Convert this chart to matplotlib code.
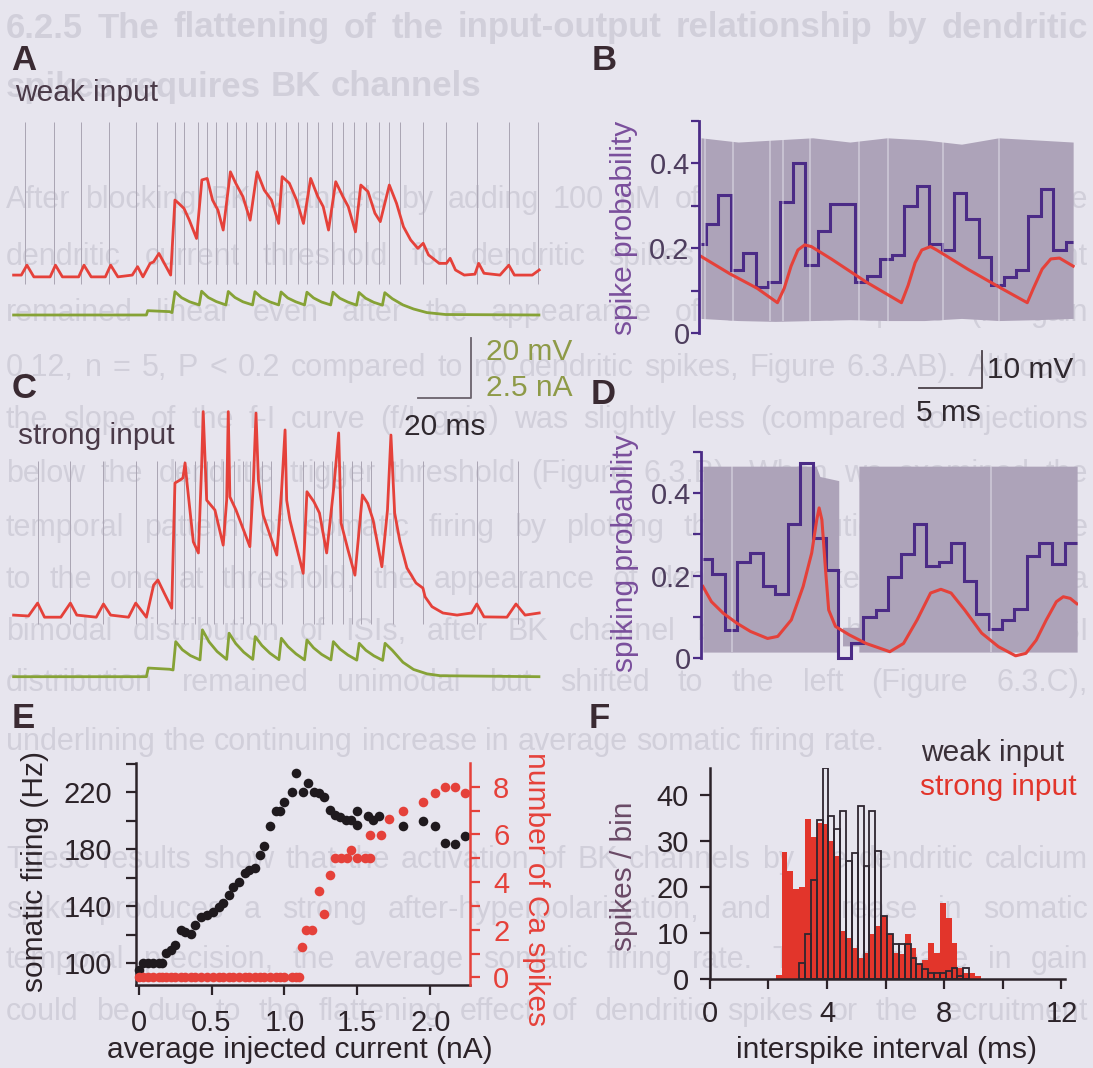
import matplotlib
matplotlib.use('Agg')
import matplotlib.pyplot as plt
from matplotlib.ticker import FixedLocator

W, H = 1093, 1068  # page size in pixels

# ---------------- A: weak input (time ms, voltage mV, current nA) ----------------
a_dend_t = [0, 2.9, 5.0, 7.6, 13.7, 15.7, 18.3, 24.4, 26.4, 29.1, 34.4, 36.4, 39.1, 44.5, 46.5,
            48.5, 51.2, 52.5, 54.5, 58.9, 60.5, 61.9, 63.9, 65.9, 68.6, 70.6, 72.6, 74.6, 76.6, 78.6,
            81.3, 83.3, 86.0, 88.7, 91.3, 94.0, 96.7, 99.4, 100.7, 103.4, 106.1, 108.7, 111.4, 114.1,
            116.1, 118.1, 120.8, 123.5, 125.5, 128.2, 130.2, 132.9, 135.5, 137.5, 140.9, 143.6, 146.2,
            148.9, 151.6, 153.6, 155.6, 159.6, 162.3, 163.7, 165.7, 169.0, 173.0, 174.4, 176.4, 182.4,
            185.7, 187.8, 194.5, 197.1]
a_dend_v = [-70, -70, -66.7, -70.6, -70.6, -66.7, -70.6, -70.6, -66.7, -70.6, -70.6, -66.7, -70.6, -70, -67.2,
            -70.6, -66.1, -65.6, -62.8, -70, -45, -46.1, -47.8, -51.7, -57.8, -38.3, -37.8, -45, -48.3, -55,
            -35.6, -39.4, -43.9, -51.7, -35.6, -41.7, -45, -52.8, -37.2, -39.4, -45, -52.8, -37.8, -43.9,
            -47.2, -55, -38.9, -43.9, -47.2, -55.6, -40, -42.2, -49.4, -52.2, -40, -46.1, -53.9,
            -58.3, -61.1, -59.4, -63.3, -66.1, -66.1, -64.4, -68.3, -70, -69.7, -66.1, -69.4, -70,
            -66.7, -70, -70, -68.3]
a_soma_spikes = [4.3, 15.0, 25.4, 35.8, 45.8, 53.8, 60.5, 63.9, 69.2, 72.6, 75.9, 80.0, 83.3, 87.3,
                 91.3, 94.7, 98.0, 102.0, 106.7, 110.1, 114.1, 119.5, 123.5, 127.5, 132.2, 136.9,
                 140.9, 144.9, 153.6, 162.3, 173.7, 185.7, 196.5]
a_inj_t = [0, 49.8, 50.3, 58.5, 59.4, 60.5, 63.0, 66.0, 69.6, 70.5, 73.0, 76.0, 79.6, 80.5, 83.0, 86.0,
           89.6, 90.5, 93.0, 96.0, 99.4, 100.3, 102.8, 105.8, 109.1, 110.0, 112.5, 115.5, 118.9, 119.8,
           122.3, 125.3, 128.6, 129.5, 132.0, 135.0, 138.3, 139.2, 142, 146, 150, 155, 162, 197]
a_inj_i = [0, 0, 0.18, 0.14, 0.1, 0.97, 0.72, 0.55, 0.42, 0.99, 0.73, 0.56, 0.42, 0.98, 0.73, 0.55,
           0.42, 0.97, 0.72, 0.55, 0.42, 0.96, 0.71, 0.55, 0.42, 0.95, 0.71, 0.54, 0.42, 0.95,
           0.70, 0.54, 0.41, 0.94, 0.70, 0.53, 0.41, 0.93, 0.68, 0.42, 0.25, 0.1, 0.02, 0]

# ---------------- C: strong input ----------------
c_dend_t = [0, 5.6, 9.0, 11.6, 17.7, 21.3, 23.7, 31.0, 33.7, 36.4, 43.1, 45.8, 49.8, 52.5, 54.1,
            56.5, 59.3, 60.5, 62.4, 63.5, 64.3, 65.0, 67.4, 69.3, 70.5, 71.1, 72.4, 75.5, 78.6, 79.9,
            80.5, 81.1, 83.4, 88.6, 89.9, 90.9, 91.8, 93.6, 98.7, 100.5, 101.8, 102.4, 103.6, 108.6,
            110.0, 112.6, 114.7, 117.4, 120.1, 121.9, 122.8, 125.4, 128.0, 130.8, 132.8, 134.8, 138.1,
            140.2, 141.5, 142.9, 144.9, 147.5, 150.9, 153.5, 154.3, 156.9, 161.0, 166.3, 171.7, 173.7,
            176.4, 185.0, 188.4, 191.8, 197.1]
c_dend_v = [-70, -70.3, -66, -70.7, -70.7, -66, -70, -70.7, -66.3, -70, -70.7, -66, -70.7, -60, -58.3,
            -62.7, -67.7, -26, -25, -24.3, -19.3, -25.7, -45.6, -49.3, -20.6, -2.2, -31.7, -35, -46.7, -31.7,
            -2.2, -30.6, -35, -47.2, -26, -2.7, -25, -36.7, -50, -28.3, -8.3, -31.7, -38.3, -56.1,
            -28.9, -32.2, -36, -49.3, -27.2, -9.3, -39.3, -48.3, -56.7, -30, -32.8, -38.3, -53.9,
            -35, -10, -36, -45.6, -54.3, -59.3, -61, -63.9, -67.2, -69.3, -70, -69.3, -66.3,
            -70.6, -70.7, -66.3, -70, -69.3]
c_soma_spikes = [9.0, 21.0, 33.7, 45.8, 53.8, 60.5, 63.9, 67.9, 72.5, 75.1, 78.5, 82.6, 86.0, 88.6,
                 93.3, 96.7, 100.6, 108.7, 112.6, 116.0, 119.4, 123.5, 126.9, 130.1, 134.0, 142.2,
                 153.5, 173.7, 189.1]
c_inj_t = [0, 49.8, 50.5, 58.5, 59.8, 60.8, 63.3, 66.3, 69.9, 70.8, 73.3, 76.3, 79.9, 80.8, 83.3, 86.3,
           89.7, 90.6, 93.1, 96.1, 99.5, 100.4, 102.9, 105.9, 109.1, 110.0, 112.5, 115.5, 119.0, 119.9,
           122.4, 125.4, 128.7, 129.6, 132.1, 135.1, 138.4, 139.3, 142, 146, 150, 155, 160, 197]
c_inj_i = [0, 0, 0.36, 0.31, 0.28, 1.46, 1.12, 0.88, 0.7, 1.95, 1.45, 1.05, 0.72, 1.81, 1.38, 1.02,
           0.72, 1.67, 1.3, 0.98, 0.71, 1.6, 1.25, 0.95, 0.7, 1.53, 1.2, 0.93, 0.7, 1.46,
           1.15, 0.9, 0.69, 1.39, 1.1, 0.87, 0.68, 1.39, 1.1, 0.6, 0.3, 0.12, 0.04, 0]

# ---------------- B: weak input, spike probability ----------------
b_edges = [0.0] + [0.4 + k for k in range(30)] + [30.0]
b_prob = [0.21, 0.257, 0.325, 0.15, 0.19, 0.11, 0.12, 0.31, 0.40, 0.16, 0.24, 0.305, 0.305, 0.12,
          0.136, 0.174, 0.185, 0.30, 0.347, 0.21, 0.196, 0.33, 0.27, 0.18, 0.113, 0.132, 0.15,
          0.275, 0.34, 0.196, 0.215]
b_fit_t = [0, 2.33, 4.52, 6.16, 6.71, 7.26, 7.81, 8.36, 8.9, 10.55, 13.3, 16.16, 16.7, 17.26, 17.8,
           18.5, 19.0, 21.5, 24.2, 26.3, 26.8, 27.5, 28.2, 28.9, 30.0]
b_fit_p = [0.181, 0.14, 0.106, 0.072, 0.106, 0.158, 0.196, 0.208, 0.204, 0.174, 0.121, 0.072, 0.113,
           0.166, 0.196, 0.204, 0.196, 0.151, 0.106, 0.072, 0.106, 0.151, 0.175, 0.177, 0.158]
b_band_t = [0, 3, 6, 9, 12, 15, 18, 21, 24, 27, 30]
b_band_top = [0.46, 0.45, 0.455, 0.46, 0.45, 0.46, 0.455, 0.445, 0.46, 0.455, 0.45]
b_band_bot = [0.035, 0.03, 0.028, 0.03, 0.032, 0.03, 0.03, 0.035, 0.03, 0.032, 0.035]
b_gaps = [0.3, 2.6, 5.6, 6.6, 8.8, 12.7, 15.1, 19.5, 24.0]

# ---------------- D: strong input, spiking probability ----------------
d_edges = [0.0] + [0.75 + k for k in range(30)]
d_prob = [0.24, 0.204, 0.068, 0.232, 0.256, 0.176, 0.156, 0.326, 0.472, 0.292, 0.214, 0.0, 0.036,
          0.1, 0.116, 0.196, 0.252, 0.324, 0.224, 0.232, 0.278, 0.188, 0.108, 0.072, 0.092, 0.12,
          0.248, 0.28, 0.228, 0.278]
d_fit_t = [0, 0.68, 1.62, 2.7, 3.78, 5.14, 5.95, 7.03, 7.97, 8.65, 9.05, 9.24, 9.46, 9.73, 10.0,
           10.54, 11.62, 12.97, 14.86, 15.95, 17.03, 18.1, 18.92, 19.73, 20.81, 22.16, 23.5, 24.86,
           25.68, 26.5, 27.3, 28.1, 28.65, 29.2, 29.73]
d_fit_p = [0.174, 0.137, 0.109, 0.085, 0.065, 0.048, 0.053, 0.093, 0.174, 0.255, 0.335, 0.364, 0.335,
           0.222, 0.117, 0.077, 0.057, 0.036, 0.016, 0.036, 0.093, 0.158, 0.167, 0.158, 0.117, 0.061,
           0.028, 0.006, 0.012, 0.044, 0.093, 0.137, 0.149, 0.145, 0.132]
d_band_t = [0, 9.0, 9.3, 10.8, 10.8, 11.1, 11.1, 12.4, 12.4, 29.75]
d_band_top = [0.465, 0.465, 0.44, 0.43, 0, 0, 0.075, 0.075, 0.465, 0.465]
d_band_bot = [0.015, 0.015, 0.015, 0.015, 0, 0, 0.03, 0.03, 0.015, 0.015]
d_gaps = [2.3, 22.9]

# ---------------- E: f-I curve ----------------
e_rate_x = [0.0, 0.03, 0.066, 0.10, 0.14, 0.16, 0.19, 0.22, 0.25, 0.29, 0.32, 0.36, 0.39, 0.43, 0.47,
            0.51, 0.55, 0.58, 0.62, 0.65, 0.69, 0.73, 0.76, 0.80, 0.83, 0.86, 0.90, 0.94, 0.97, 1.00,
            1.05, 1.08, 1.13, 1.16, 1.20, 1.24, 1.27, 1.31, 1.35, 1.38, 1.42, 1.46, 1.50, 1.50, 1.57,
            1.61, 1.65, 1.81, 1.95, 2.03, 2.10, 2.17, 2.24]
e_rate_hz = [95.3, 100, 100, 100, 100, 100, 107, 109.4, 112.9, 123.4, 122.2, 120.4, 126.9, 132.8, 133.9,
             136.3, 139.8, 142.1, 148.0, 153.8, 157.3, 163.2, 165.5, 166.7, 176.1, 182.4, 196.4, 206.5,
             206.5, 213.5, 220.0, 233.4, 220.0, 226.4, 220.0, 219.3, 216.5, 207.2, 204.1, 202.5, 200.2,
             200.2, 197.1, 206.5, 203.4, 200.6, 203.4, 196.4, 199.9, 196.4, 184.2, 183.8, 189.4]
e_ca_x = [0.0, 0.03, 0.066, 0.10, 0.14, 0.16, 0.19, 0.22, 0.25, 0.29, 0.32, 0.36, 0.39, 0.43, 0.47,
          0.51, 0.55, 0.58, 0.62, 0.65, 0.69, 0.73, 0.76, 0.80, 0.83, 0.86, 0.90, 0.94, 0.97, 1.00,
          1.05, 1.08, 1.10, 1.12, 1.15, 1.19, 1.24, 1.27, 1.31, 1.35, 1.39, 1.43, 1.46, 1.50, 1.55,
          1.59, 1.59, 1.66, 1.72, 1.81, 1.95, 2.03, 2.10, 2.17, 2.24]
e_ca_n = [0, 0, 0, 0, 0, 0, 0, 0, 0, 0, 0, 0, 0, 0, 0,
          0, 0, 0, 0, 0, 0, 0, 0, 0, 0, 0, 0, 0, 0, 0,
          0, 0, 0, 1.29, 1.99, 1.99, 3.64, 2.66, 4.29, 4.99, 4.99, 4.99, 5.34, 4.99, 4.99,
          4.99, 5.97, 5.97, 6.63, 6.98, 7.34, 7.72, 8.0, 8.0, 7.72]

# ---------------- F: ISI histograms (0.2 ms bins) ----------------
f_weak_start = 3.05
f_weak = [3.6, 9.8, 21.7, 34.6, 46, 35.5, 32.6, 36.6, 25.7, 27.5, 37.7, 24.6, 36.7, 27.9, 13.8, 9.8,
          7.6, 7.6, 7.6, 4.7, 3.3, 2.2, 1.4, 1.4, 1.4, 1.8, 2.4, 0.7, 2.5]
f_strong_start = 2.25
f_strong = [1, 27.8, 23.6, 19.6, 20, 34.8, 31, 34, 33.7, 30, 26.8, 10.5, 9, 6.9, 4.7, 5.8, 9.8, 11.6,
            13.8, 9.8, 5.8, 5.4, 9.8, 6.9, 3.3, 4.3, 7.9, 5.8, 16.7, 13.4, 7.9, 2.5, 1.4, 1.4, 0.7]
f_bin = 0.2

# faint page text showing through the scan: (y px, text, bold, justified)
page_lines = [
    (28, "6.2.5 The flattening of the input-output relationship by dendritic", True, True),
    (87, "spikes requires BK channels", True, False),
    (200, "After blocking BK channels by adding 100 nM of iberiotoxin to the bath, the", False, True),
    (257, "dendritic current threshold for dendritic spikes and the injection current", False, True),
    (313, "remained linear even after the appearance of dendritic spikes (f-I gain", False, True),
    (368, "0.12, n = 5, P < 0.2 compared to no dendritic spikes, Figure 6.3.AB). Although", False, True),
    (420, "the slope of the f-I curve (f/I gain) was slightly less (compared to injections", False, True),
    (474, "below the dendritic trigger threshold (Figure 6.3.B). When we examined the", False, True),
    (528, "temporal pattern of somatic firing by plotting the distribution of interspike", False, True),
    (580, "to the one at threshold, the appearance of dendritic spikes appears as a", False, True),
    (632, "bimodal distribution of ISIs, after BK channel blockade, however, the ISI", False, True),
    (683, "distribution remained unimodal but shifted to the left (Figure 6.3.C),", False, True),
    (742, "underlining the continuing increase in average somatic firing rate.", False, False),
    (860, "These results show that the activation of BK channels by the dendritic calcium", False, True),
    (910, "spike produces a strong after-hyperpolarization, and decrease in somatic", False, True),
    (960, "temporal precision, the average somatic firing rate. The decrease in gain", False, True),
    (1012, "could be due to the flattening effect of dendritic spikes or the recruitment", False, True),
]

# ---------------- style ----------------
BG = '#e7e5ee'
FAINT = '#d1cfda'
RED = '#e5413a'
GREEN = '#86a236'
OLIVE = '#8e9a48'
PURPLE = '#4b2b86'
PURPLE_TXT = '#7a4f9c'
BLOCK = '#ada3b9'
SOMA = '#aaa5b3'
DARK = '#2c2329'
LABEL = '#4a3a48'

plt.rcParams['font.family'] = ['Liberation Sans', 'DejaVu Sans']
TICK_FS = 21
LAB_FS = 21.5

fig = plt.figure(figsize=(W / 100, H / 100), dpi=100, facecolor=BG)


def box(x0, y0, x1, y1):
    return [x0 / W, 1 - y1 / H, (x1 - x0) / W, (y1 - y0) / H]


def ftext(x, y, s, **kw):
    return fig.text(x / W, 1 - y / H, s, **kw)


def blank(ax):
    ax.patch.set_alpha(0)
    ax.axis('off')


# page text, justified across the page
rend = fig.canvas.get_renderer()
X0, X1 = 6, 1088
for y, line, bold, just in page_lines:
    fs = 25 if bold else 22
    words = line.split()
    objs = [ftext(0, y, w, fontsize=fs, color=FAINT, va='center', zorder=-5,
                  weight='bold' if bold else 'normal') for w in words]
    widths = [o.get_window_extent(rend).width for o in objs]
    need = sum(widths) + 8 * (len(words) - 1)
    if need > X1 - X0:
        fs *= (X1 - X0) / need
        for o in objs:
            o.set_fontsize(fs)
        widths = [o.get_window_extent(rend).width for o in objs]
    gap = fs * 0.28 * 100 / 72
    if just:
        gap = (X1 - X0 - sum(widths)) / (len(words) - 1)
    x = X0
    for o, w in zip(objs, widths):
        o.set_x(x / W)
        x += w + gap

# ---------------- A ----------------
axA = fig.add_axes(box(0, 110, 560, 330))
blank(axA)
axA.set_xlim(-5.1, 204.9)
axA.set_ylim(-88.3, -15)
axA.vlines(a_soma_spikes, -73, -19, color=SOMA, lw=0.7)
axA.plot(a_dend_t, a_dend_v, color=RED, lw=2)
axAi = fig.add_axes(box(0, 280, 560, 330))
blank(axAi)
axAi.set_xlim(-5.1, 204.9)
axAi.set_ylim(-0.625, 1.458)
axAi.plot(a_inj_t, a_inj_i, color=GREEN, lw=2)

# ---------------- C ----------------
axC = fig.add_axes(box(0, 400, 560, 640))
blank(axC)
axC.set_xlim(-5.1, 204.9)
axC.set_ylim(-78.3, 1.67)
axC.vlines(c_soma_spikes, -73, -18.5, color=SOMA, lw=0.7)
axC.plot(c_dend_t, c_dend_v, color=RED, lw=2)
# scale bar: 20 ms / 20 mV
axC.plot([151.7, 171.7, 171.7], [2.3, 2.3, 22.3], color='#6a626c', lw=1.3, clip_on=False)
axCi = fig.add_axes(box(0, 620, 560, 690))
blank(axCi)
axCi.set_xlim(-5.1, 204.9)
axCi.set_ylim(-0.554, 2.36)
axCi.plot(c_inj_t, c_inj_i, color=GREEN, lw=2)


def prob_axes(rect, xlim):
    ax = fig.add_axes(rect)
    ax.patch.set_alpha(0)
    for s in ['top', 'right', 'bottom']:
        ax.spines[s].set_visible(False)
    ax.spines['left'].set_color(PURPLE)
    ax.spines['left'].set_linewidth(2)
    ax.set_xlim(*xlim)
    ax.set_ylim(0, 0.5)
    ax.set_xticks([])
    ax.set_yticks([0, 0.2, 0.4], ['0', '0.2', '0.4'])
    ax.yaxis.set_minor_locator(FixedLocator([0.1, 0.3, 0.5]))
    ax.tick_params(axis='y', which='both', direction='out', length=6, width=1.6,
                   color=PURPLE, pad=1, labelsize=TICK_FS, labelcolor='#4e3e5e')
    return ax


# ---------------- B ----------------
axB = prob_axes(box(699.4, 120.8, 1075, 333.3), (-0.13, 30.15))
axB.fill_between(b_band_t, b_band_bot, b_band_top, color=BLOCK, lw=0)
axB.vlines(b_gaps, 0.03, 0.46, color=BG, lw=1.2, alpha=0.55)
axB.stairs(b_prob, b_edges, baseline=None, color=PURPLE, lw=2.2)
axB.plot(b_fit_t, b_fit_p, color=RED, lw=2.2)

# ---------------- D ----------------
axD = prob_axes(box(701.2, 451.7, 1078, 658.3), (-0.135, 29.82))
axD.fill_between(d_band_t, d_band_bot, d_band_top, color=BLOCK, lw=0)
axD.vlines(d_gaps, 0.015, 0.465, color=BG, lw=1.2, alpha=0.55)
axD.stairs(d_prob, d_edges, baseline=None, color=PURPLE, lw=2.2, clip_on=False)
axD.plot(d_fit_t, d_fit_p, color=RED, lw=2.2)
# scale bar: 5 ms / 10 mV
axD.plot([17.16, 22.16, 22.16], [0.654, 0.654, 0.743], color='#4a4048', lw=1.3, clip_on=False)

# ---------------- E ----------------
axE = fig.add_axes(box(135.7, 763.3, 469.6, 985))
axE.patch.set_alpha(0)
axE.spines['top'].set_visible(False)
axE.spines['right'].set_visible(False)
for s in ['left', 'bottom']:
    axE.spines[s].set_linewidth(1.8)
    axE.spines[s].set_color(DARK)
axE.set_xlim(-0.02, 2.27)
axE.set_ylim(84.8, 240.3)
axE.set_xticks([0, 0.5, 1.0, 1.5, 2.0], ['0', '0.5', '1.0', '1.5', '2.0'])
axE.set_yticks([100, 140, 180, 220])
axE.yaxis.set_minor_locator(FixedLocator([120, 160, 200, 240]))
axE.tick_params(which='both', direction='out', length=7, width=1.6, color=DARK, pad=10,
                labelsize=TICK_FS, labelcolor=DARK)
axE.scatter(e_rate_x, e_rate_hz, s=48, color='#1f1a1e', lw=0, clip_on=False, zorder=3)
axE2 = axE.twinx()
axE2.patch.set_alpha(0)
for s in ['top', 'left', 'bottom']:
    axE2.spines[s].set_visible(False)
axE2.spines['right'].set_color(RED)
axE2.spines['right'].set_linewidth(1.8)
axE2.set_ylim(-0.32, 8.98)
axE2.set_yticks([0, 2, 4, 6, 8])
axE2.yaxis.set_minor_locator(FixedLocator([1, 3, 5, 7]))
axE2.tick_params(which='both', direction='out', length=7, width=1.6, color=RED, pad=10,
                 labelsize=TICK_FS, labelcolor=RED)
axE2.scatter(e_ca_x, e_ca_n, s=48, color=RED, lw=0, clip_on=False, zorder=3)

# ---------------- F ----------------
axF = fig.add_axes(box(709.7, 768.3, 1065, 979.3))
axF.patch.set_alpha(0)
axF.spines['top'].set_visible(False)
axF.spines['right'].set_visible(False)
for s in ['left', 'bottom']:
    axF.spines[s].set_linewidth(1.8)
    axF.spines[s].set_color(DARK)
axF.set_xlim(0, 12.12)
axF.set_ylim(0, 45.9)
axF.set_xticks([0, 2, 4, 6, 8, 10, 12], ['0', '', '4', '', '8', '', '12'])
axF.set_yticks([0, 10, 20, 30, 40])
axF.tick_params(direction='out', length=7, width=1.6, color=DARK, pad=8,
                labelsize=TICK_FS, labelcolor=DARK)
strong_left = [f_strong_start + f_bin * k for k in range(len(f_strong))]
weak_left = [f_weak_start + f_bin * k for k in range(len(f_weak))]
axF.bar(strong_left, f_strong, width=f_bin, align='edge', color='#e2352b', lw=0)
axF.bar(weak_left, f_weak, width=f_bin, align='edge', fill=False, edgecolor='#2e2630', lw=1.3)

# ---------------- text ----------------
LET = dict(fontsize=25, weight='bold', color='#3a2a32', va='center')
ftext(11, 61, 'A', **LET)
ftext(592, 61, 'B', **LET)
ftext(12, 389, 'C', **LET)
ftext(591, 394, 'D', **LET)
ftext(12, 718, 'E', **LET)
ftext(589, 718, 'F', **LET)

ftext(15, 93, 'weak input', fontsize=LAB_FS, color=LABEL, va='center')
ftext(18, 436, 'strong input', fontsize=LAB_FS, color=LABEL, va='center')
ftext(486, 352, '20 mV', fontsize=LAB_FS, color=OLIVE, va='center')
ftext(486, 388, '2.5 nA', fontsize=LAB_FS, color=OLIVE, va='center')
ftext(404, 427, '20 ms', fontsize=LAB_FS, color='#2f282e', va='center')
ftext(987, 370, '10 mV', fontsize=LAB_FS, color='#2f282e', va='center')
ftext(916, 413, '5 ms', fontsize=LAB_FS, color='#2f282e', va='center')

ftext(623.5, 228, 'spike probability', fontsize=LAB_FS, color=PURPLE_TXT, rotation=90,
      ha='center', va='center')
ftext(624.6, 553, 'spiking probability', fontsize=LAB_FS, color=PURPLE_TXT, rotation=90,
      ha='center', va='center')

ftext(35, 872, 'somatic firing (Hz)', fontsize=LAB_FS, color=DARK, rotation=90,
      ha='center', va='center')
ftext(536, 889, 'number of Ca spikes', fontsize=LAB_FS, color=RED, rotation=270,
      ha='center', va='center')
ftext(300, 1050, 'average injected current (nA)', fontsize=LAB_FS, color=DARK,
      ha='center', va='center')

ftext(624.5, 876, 'spikes / bin', fontsize=LAB_FS, color='#6a4a66', rotation=90,
      ha='center', va='center')
ftext(886, 1050, 'interspike interval (ms)', fontsize=LAB_FS, color=DARK,
      ha='center', va='center')
ftext(1064, 753, 'weak input', fontsize=LAB_FS, color='#3a3038', ha='right', va='center')
ftext(1077, 787, 'strong input', fontsize=LAB_FS, color='#e2352b', ha='right', va='center')

fig.savefig('out.png', dpi=100, facecolor=BG)
